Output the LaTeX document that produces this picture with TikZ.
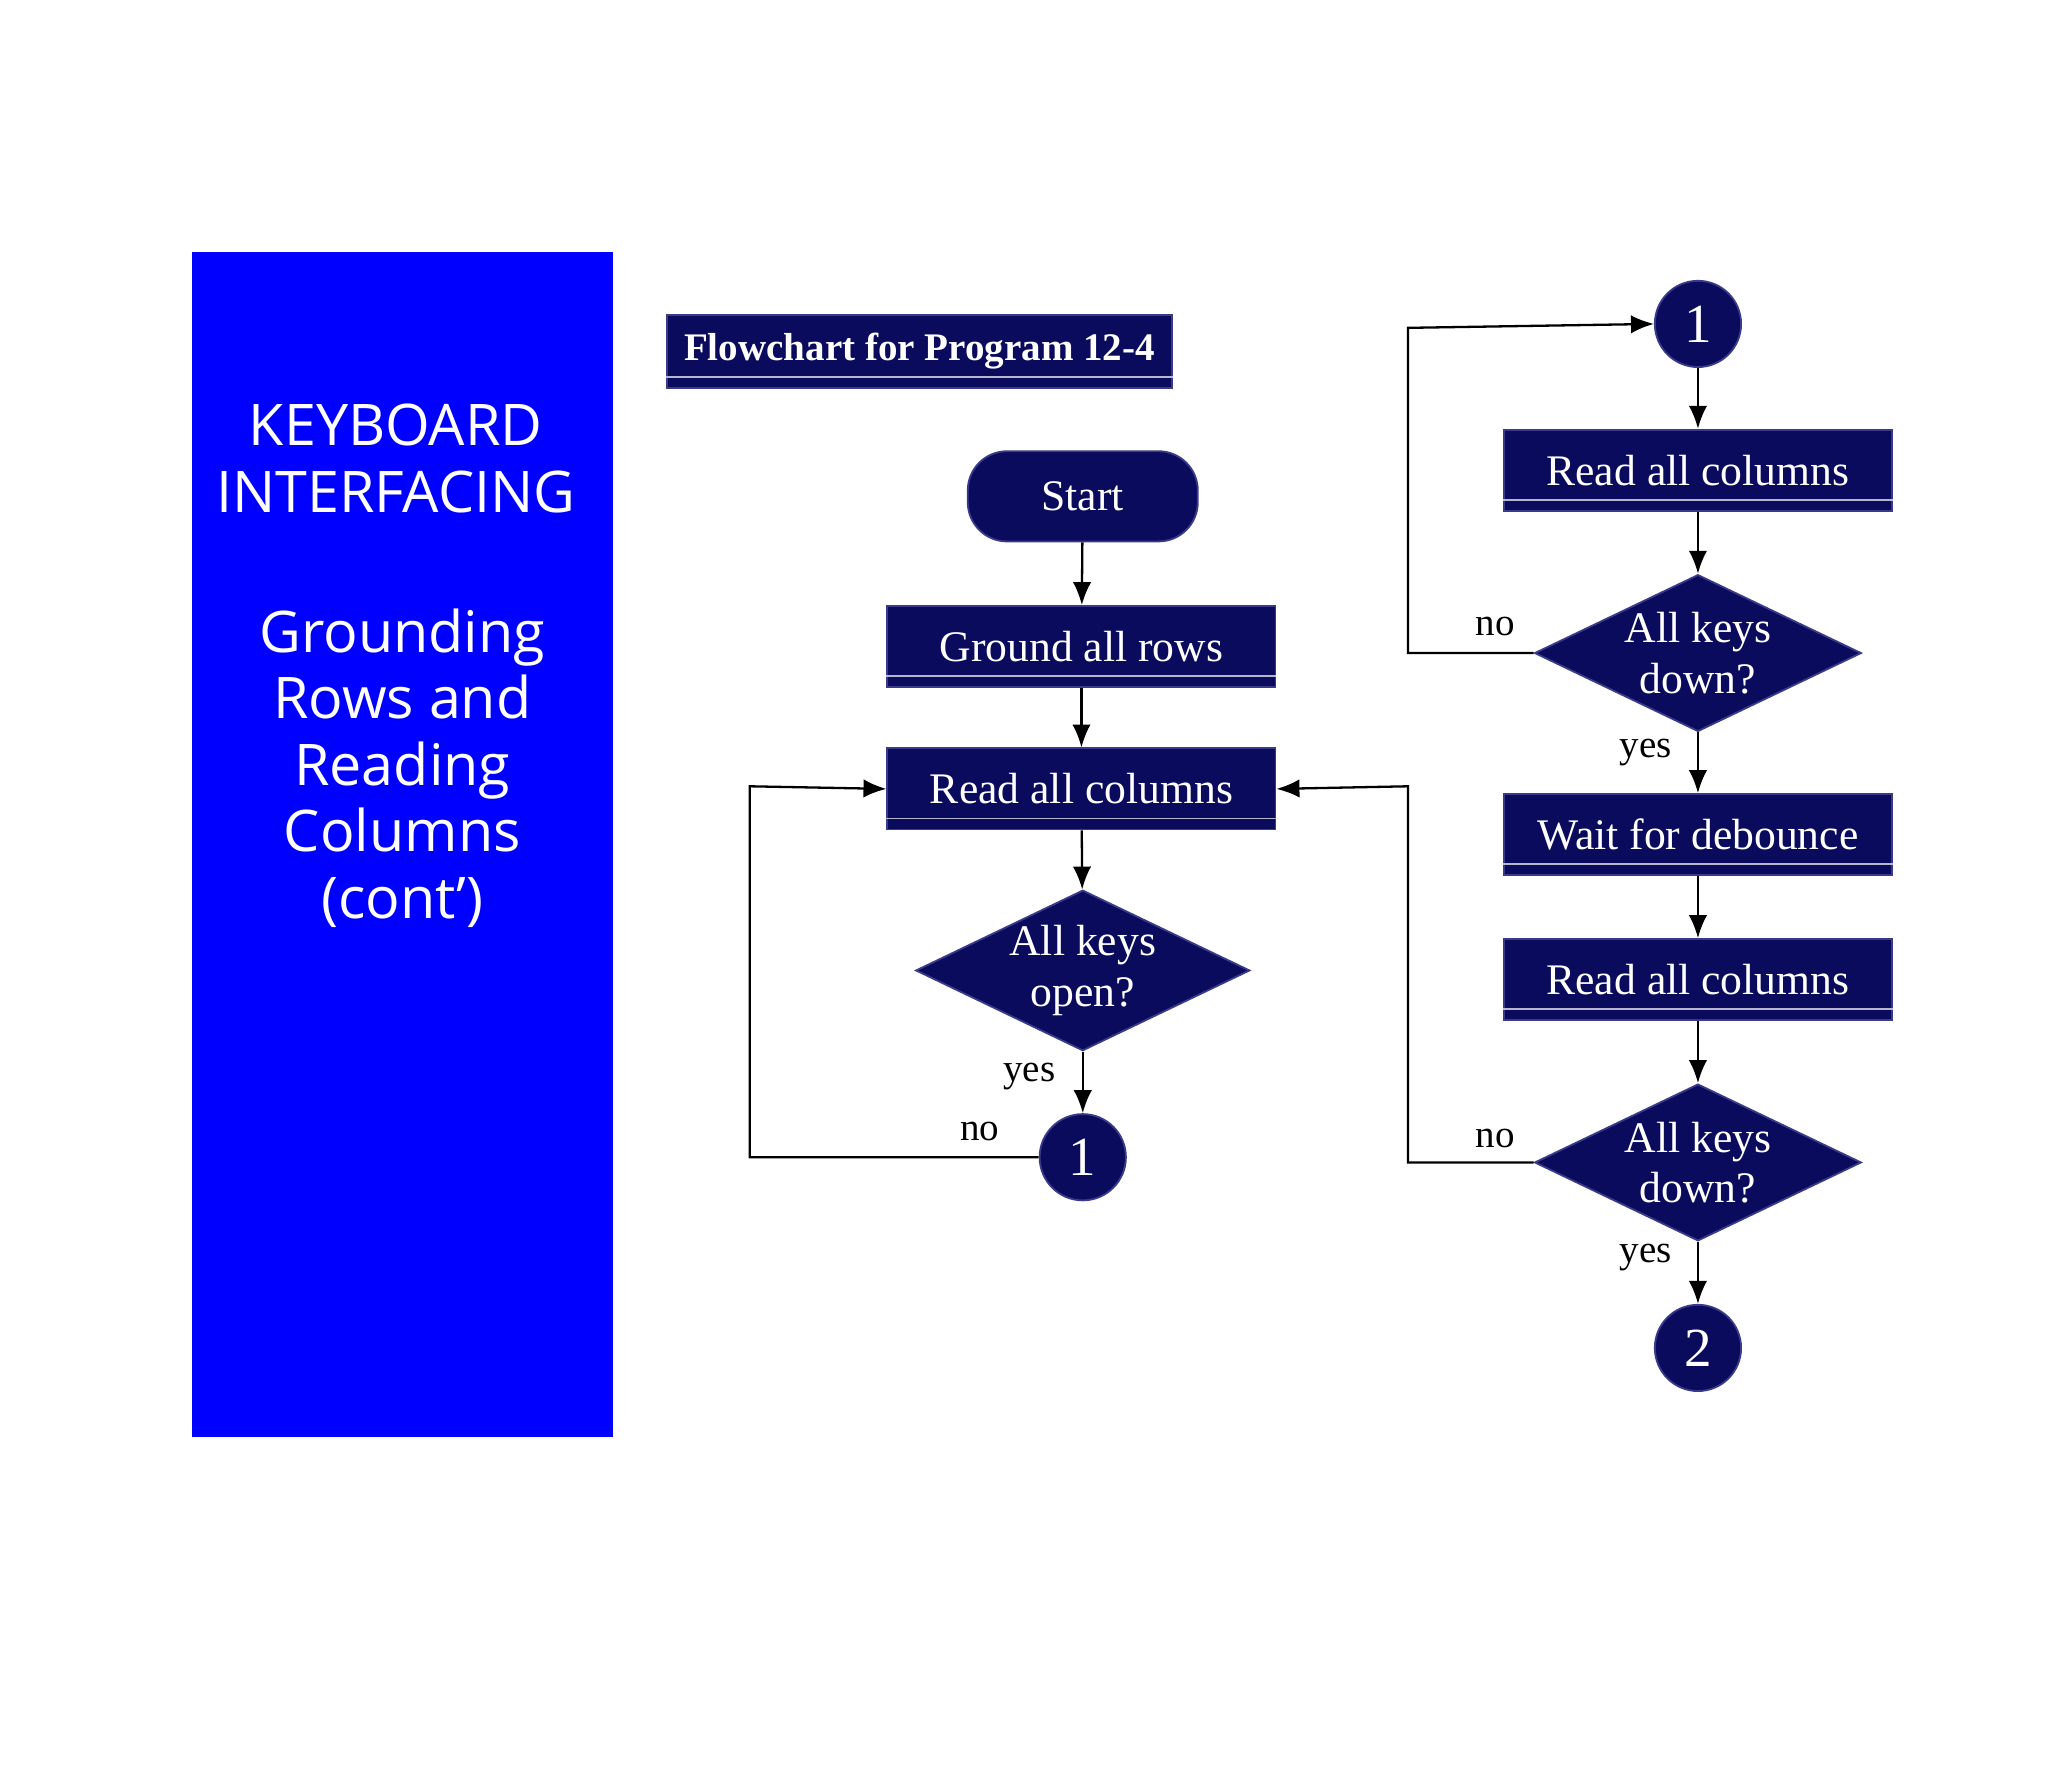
\documentclass[tikz,border=0pt]{standalone}
\usepackage{fontspec}
\setmainfont{Liberation Serif}
\newfontfamily\panelfont{Open Sans}
\usetikzlibrary{shapes.geometric,arrows.meta}
\definecolor{navy}{HTML}{0B0B5E}
\definecolor{navyb}{HTML}{3A3A8A}
\definecolor{panel}{HTML}{0000FF}
\begin{document}
\begin{tikzpicture}[x=0.01cm,y=-0.01cm,
  box/.style={draw=navyb,fill=navy,text=white,minimum width=2.97cm,minimum height=0.62cm,font=\fontsize{9.5}{11}\selectfont,inner sep=0pt},
  dia/.style={diamond,draw=navyb,fill=navy,text=white,aspect=2.08,minimum width=2.5cm,minimum height=1.2cm,inner sep=0pt,align=center,font=\fontsize{9.5}{11}\selectfont},
  circ/.style={circle,draw=navyb,fill=navy,text=white,minimum size=0.66cm,inner sep=0pt,font=\fontsize{12}{13}\selectfont},
  arr/.style={-{Latex[length=5pt,width=4pt]},black,line width=0.5pt},
  lab/.style={font=\fontsize{8.5}{10}\selectfont,text=black}]
\useasboundingbox (0,0) rectangle (1568,1369);
\fill[panel] (147,193) rectangle (469,1100);
\node[text=white,align=center,font=\panelfont\fontsize{12.5}{14.5}\selectfont] at (303,351) {KEYBOARD\\INTERFACING};
\node[text=white,align=center,font=\panelfont\fontsize{12.5}{14.5}\selectfont] at (308,588) {Grounding\\Rows and\\Reading\\Columns\\(cont’)};
% title
\node[box,minimum width=3.87cm,minimum height=0.56cm,font=\bfseries\fontsize{8.5}{10}\selectfont] (title) at (704,269) {Flowchart for Program 12-4};
% left column
\node[box,rounded corners=0.3cm,minimum width=1.76cm,minimum height=0.69cm] (start) at (829,380) {Start};
\node[box] (ground) at (828,495) {Ground all rows};
\node[box] (read1) at (828,604) {Read all columns};
\node[dia] (d1) at (829,743) {All keys\\open?};
\node[circ] (c1) at (829,886) {1};
\foreach \n in {ground,read1,title}{\draw[white!70!navy,line width=0.4pt] ([yshift=0.09cm]\n.south west)--([yshift=0.09cm]\n.south east);}
\draw[arr] (start)--(ground);
\draw[arr] (ground)--(read1);
\draw[arr] (read1)--(d1);
\draw[arr] (d1)--(c1);
\coordinate (l1) at (574,886); \coordinate (l2) at (574,602);
\draw[arr] (c1.west)--(l1)--(l2)--(read1.west);
\node[lab] at (750,866) {no};
\node[lab] at (788,824) {yes};
% right column
\node[circ] (c2) at (1300,248) {1};
\node[box] (read2) at (1300,360) {Read all columns};
\node[dia] (d2) at (1300,500) {All keys\\down?};
\node[box] (wait) at (1300,639) {Wait for debounce};
\node[box] (read3) at (1300,750) {Read all columns};
\node[dia] (d3) at (1300,890) {All keys\\down?};
\node[circ] (c3) at (1300,1032) {2};
\foreach \n in {read2,wait,read3}{\draw[white!70!navy,line width=0.4pt] ([yshift=0.09cm]\n.south west)--([yshift=0.09cm]\n.south east);}
\draw[arr] (c2)--(read2);
\draw[arr] (read2)--(d2);
\draw[arr] (d2)--(wait);
\draw[arr] (wait)--(read3);
\draw[arr] (read3)--(d3);
\draw[arr] (d3)--(c3);
\coordinate (r1) at (1078,500); \coordinate (r2) at (1078,251);
\draw[arr] (d2.west)--(r1)--(r2)--(c2.west);
\coordinate (r3) at (1078,890); \coordinate (r4) at (1078,602);
\draw[arr] (d3.west)--(r3)--(r4)--(read1.east);
\node[lab] at (1145,480) {no};
\node[lab] at (1260,576) {yes};
\node[lab] at (1145,872) {no};
\node[lab] at (1260,963) {yes};
\end{tikzpicture}
\end{document}
